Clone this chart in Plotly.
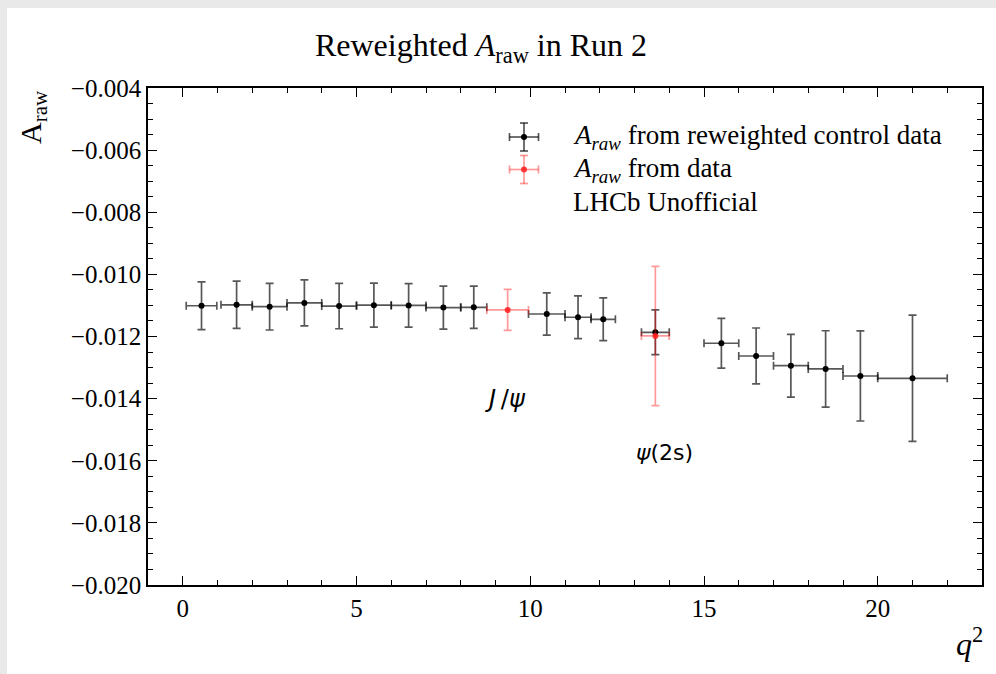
import plotly.graph_objects as go

# ---------------- data ----------------
# black: A_raw from reweighted control data
ctrl_bin_lo = [0.1, 1.1, 2.0, 3.0, 4.0, 5.0, 6.0, 7.0, 8.0, 9.95, 11.0, 11.75, 13.2,
               15.0, 16.0, 17.0, 18.0, 19.0, 20.0]
ctrl_bin_hi = [0.98, 2.0, 3.0, 4.0, 5.0, 6.0, 7.0, 8.0, 8.75, 11.0, 11.75, 12.45, 14.0,
               16.0, 17.0, 18.0, 19.0, 20.0, 22.0]
ctrl_val = [-0.01101, -0.01098, -0.01104, -0.01092, -0.01102, -0.01099, -0.01100,
            -0.01107, -0.01106, -0.011275, -0.01138, -0.011446, -0.011864,
            -0.012218, -0.012627, -0.012939, -0.013045, -0.013271, -0.013345]
ctrl_err = [0.00077, 0.00076, 0.00075, 0.00074, 0.00073, 0.00071, 0.00070,
            0.00069, 0.00068, 0.00068, 0.00069, 0.00069, 0.00072,
            0.00080, 0.00090, 0.00101, 0.00123, 0.00145, 0.00203]

# red: A_raw from data (resonance bins)
data_bin_lo = [8.75, 13.2]
data_bin_hi = [9.95, 14.0]
data_val = [-0.011146, -0.011983]
data_err = [0.00066, 0.00224]

x_ticks = [0, 5, 10, 15, 20]
y_ticks = [-0.004, -0.006, -0.008, -0.010, -0.012, -0.014, -0.016, -0.018, -0.020]

# ---------------- layout constants ----------------
W, H = 996, 674
ML, MR, MT, MB = 148, 14, 88, 89
PW, PH = W - ML - MR, H - MT - MB
SERIF = "Liberation Serif"


def px(xp):
    return (xp - ML) / PW


def py(yp):
    return (H - MB - yp) / PH


def centers(lo, hi):
    return [(a + b) / 2 for a, b in zip(lo, hi)]


def halfw(lo, hi):
    return [(b - a) / 2 for a, b in zip(lo, hi)]


fig = go.Figure()

BLACK_BAR = "rgba(0,0,0,0.66)"
RED_BAR = "rgba(255,0,0,0.40)"
RED_DOT = "rgba(255,30,30,0.85)"

fig.add_trace(go.Scatter(
    x=centers(ctrl_bin_lo, ctrl_bin_hi), y=ctrl_val, mode="markers",
    marker=dict(color="black", size=6),
    error_x=dict(type="data", array=halfw(ctrl_bin_lo, ctrl_bin_hi), color=BLACK_BAR,
                 thickness=1.7, width=4),
    error_y=dict(type="data", array=ctrl_err, color=BLACK_BAR, thickness=1.7, width=4),
    showlegend=False,
))
fig.add_trace(go.Scatter(
    x=centers(data_bin_lo, data_bin_hi), y=data_val, mode="markers",
    marker=dict(color=RED_DOT, size=6),
    error_x=dict(type="data", array=halfw(data_bin_lo, data_bin_hi), color=RED_BAR,
                 thickness=1.7, width=4),
    error_y=dict(type="data", array=data_err, color=RED_BAR, thickness=1.7, width=4),
    showlegend=False,
))

shapes = []
# grey frame strips (screenshot border)
shapes.append(dict(type="rect", xref="paper", yref="paper", x0=px(0), x1=px(W),
                   y0=py(0), y1=py(8), fillcolor="#e9e9e9", line_width=0, layer="below"))
shapes.append(dict(type="rect", xref="paper", yref="paper", x0=px(0), x1=px(7),
                   y0=py(0), y1=py(H), fillcolor="#e9e9e9", line_width=0, layer="below"))


def legend_glyph(cx, cy, color, dot):
    hw, hh, cap = 14.5, 14, 4
    s = []
    s.append(dict(type="line", xref="paper", yref="paper", x0=px(cx - hw), x1=px(cx + hw),
                  y0=py(cy), y1=py(cy), line=dict(color=color, width=1.7)))
    s.append(dict(type="line", xref="paper", yref="paper", x0=px(cx), x1=px(cx),
                  y0=py(cy - hh), y1=py(cy + hh), line=dict(color=color, width=1.7)))
    for ex in (cx - hw, cx + hw):
        s.append(dict(type="line", xref="paper", yref="paper", x0=px(ex), x1=px(ex),
                      y0=py(cy - cap), y1=py(cy + cap), line=dict(color=color, width=1.7)))
    for ey in (cy - hh, cy + hh):
        s.append(dict(type="line", xref="paper", yref="paper", x0=px(cx - cap), x1=px(cx + cap),
                      y0=py(ey), y1=py(ey), line=dict(color=color, width=1.7)))
    s.append(dict(type="circle", xref="paper", yref="paper", x0=px(cx - 3), x1=px(cx + 3),
                  y0=py(cy - 3), y1=py(cy + 3), fillcolor=dot, line_width=0))
    return s


shapes += legend_glyph(524, 137, BLACK_BAR, "black")
shapes += legend_glyph(524, 169.5, RED_BAR, RED_DOT)

annotations = []
leg_texts = ["<i>A<sub>raw</sub></i> from reweighted control data",
             "<i>A<sub>raw</sub></i> from data",
             "LHCb Unofficial"]
for t, yy in zip(leg_texts, [136.7, 170, 201.7]):
    annotations.append(dict(text=t, xref="paper", yref="paper", x=px(571), y=py(yy),
                            xanchor="left", yanchor="middle", showarrow=False,
                            font=dict(family=SERIF, size=27, color="black")))

# resonance labels
annotations.append(dict(text="<i>J</i>\u2009/<i>ψ</i>", x=9.3, y=-0.01401, xref="x", yref="y",
                        showarrow=False, font=dict(family="DejaVu Sans", size=24, color="black")))
annotations.append(dict(text="<i>ψ</i>(2s)", x=13.85, y=-0.01575, xref="x", yref="y",
                        showarrow=False, font=dict(family="DejaVu Sans", size=22, color="black")))

# axis labels
annotations.append(dict(text="A<sub>raw</sub>", xref="paper", yref="paper", x=px(54), y=1,
                        xanchor="right", yanchor="top", textangle=-90, showarrow=False,
                        font=dict(family=SERIF, size=30, color="black")))
annotations.append(dict(text="<i>q</i><sup>2</sup>", xref="paper", yref="paper", x=px(985),
                        y=py(642), xanchor="right", yanchor="middle", showarrow=False,
                        font=dict(family=SERIF, size=32, color="black")))

axis_common = dict(showline=True, linecolor="black", linewidth=1.6, mirror="ticks",
                   ticks="inside", tickcolor="black", tickwidth=1.3, ticklen=9,
                   showgrid=False, zeroline=False,
                   tickfont=dict(family=SERIF, size=25, color="black"))

fig.update_layout(
    width=W, height=H, autosize=False,
    margin=dict(l=ML, r=MR, t=MT, b=MB),
    paper_bgcolor="white", plot_bgcolor="white",
    title=dict(text="Reweighted <i>A</i><sub>raw</sub> in Run 2", x=481 / W, xanchor="center",
               y=1 - 45 / H, yanchor="middle",
               font=dict(family=SERIF, size=32, color="black")),
    xaxis=dict(range=[-1, 23], tickvals=x_ticks, ticktext=[str(v) for v in x_ticks],
               minor=dict(dtick=1, tick0=0, ticks="inside", ticklen=5, tickcolor="black",
                          tickwidth=1.1),
               **axis_common),
    yaxis=dict(range=[-0.020, -0.004], tickvals=y_ticks, tickformat=".3f",
               minor=dict(dtick=0.0005, tick0=0, ticks="inside", ticklen=5, tickcolor="black",
                          tickwidth=1.1),
               **axis_common),
    shapes=shapes,
    annotations=annotations,
)

fig.write_html("out.html")
